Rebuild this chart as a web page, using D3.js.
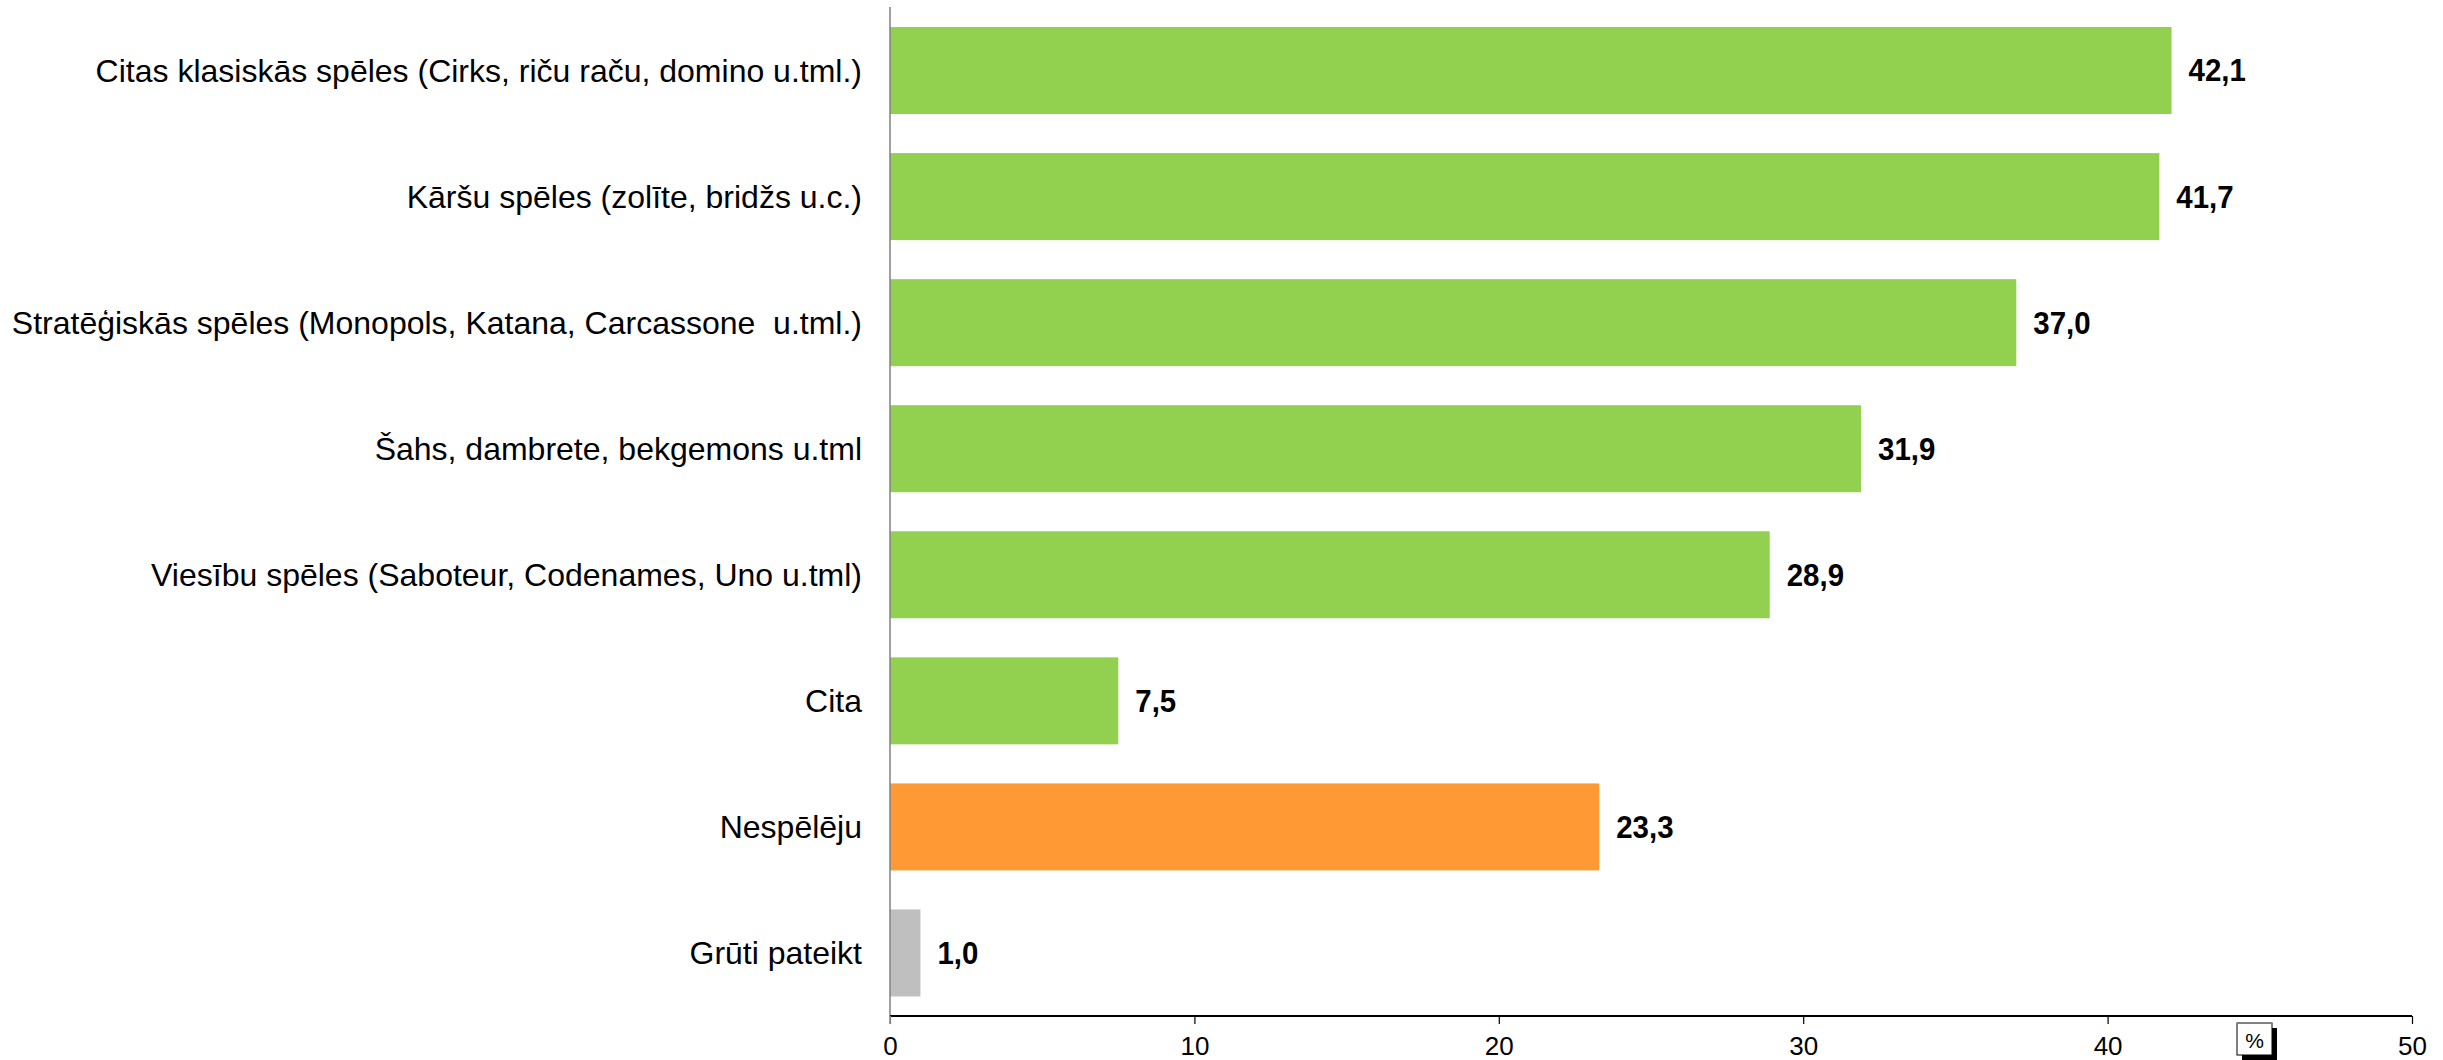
<!DOCTYPE html>
<html><head><meta charset="utf-8">
<script src="https://cdn.jsdelivr.net/npm/d3@7"></script>
<style>html,body{margin:0;padding:0;background:#fff;}svg{display:block;font-family:"Liberation Sans",Arial,sans-serif;}text{white-space:pre;}</style>
</head><body>
<svg id="chart" width="2443" height="1060"></svg>
<script>
const categories = [
  "Citas klasiskās spēles (Cirks, riču raču, domino u.tml.)",
  "Kāršu spēles (zolīte, bridžs u.c.)",
  "Stratēģiskās spēles (Monopols, Katana, Carcassone  u.tml.)",
  "Šahs, dambrete, bekgemons u.tml",
  "Viesību spēles (Saboteur, Codenames, Uno u.tml)",
  "Cita",
  "Nespēlēju",
  "Grūti pateikt"
];
const values = [42.1, 41.7, 37.0, 31.9, 28.9, 7.5, 23.3, 1.0];
const barColors = ["#92D050","#92D050","#92D050","#92D050","#92D050","#92D050","#FF9933","#BFBFBF"];
const xTicks = [0, 10, 20, 30, 40, 50];
const unitLabel = "%";

const svg = d3.select("#chart");
const x0 = 890, x1 = 2412, yTop = 7, axisY = 1016;
const x = d3.scaleLinear().domain([0, 50]).range([x0, x1]);
const y = d3.scaleBand().domain(categories).range([7.5, axisY]).paddingInner(0.31).paddingOuter(0.155);

// bars
svg.append("g").selectAll("rect").data(values).join("rect")
  .attr("x", x(0)).attr("y", (d, i) => y(categories[i]))
  .attr("width", d => x(d) - x(0)).attr("height", y.bandwidth())
  .attr("fill", (d, i) => barColors[i]);

// vertical axis line
svg.append("line").attr("x1", x0).attr("x2", x0).attr("y1", yTop).attr("y2", axisY + 8)
  .attr("stroke", "#808080").attr("stroke-width", 1.5);

// category labels
svg.append("g").selectAll("text").data(categories).join("text")
  .attr("x", x0 - 28).attr("y", d => y(d) + y.bandwidth() / 2)
  .attr("text-anchor", "end").attr("dominant-baseline", "central")
  .attr("font-size", 32).attr("fill", "#000").text(d => d);

// value labels
const fmt = d => d.toFixed(1).replace(".", ",");
svg.append("g").selectAll("text").data(values).join("text")
  .attr("transform", (d, i) => `translate(${x(d) + 17},${y(categories[i]) + y.bandwidth() / 2}) scale(0.92,1)`)
  .attr("dominant-baseline", "central")
  .attr("font-size", 32).attr("font-weight", "bold").attr("fill", "#000").text(fmt);

// x axis
const xAxis = d3.axisBottom(x).tickValues(xTicks).tickSize(8).tickPadding(13).tickFormat(d3.format("d"));
const ga = svg.append("g").attr("transform", `translate(0,${axisY})`).call(xAxis);
ga.select(".domain").attr("stroke", "#000").attr("stroke-width", 2).attr("d", `M${x0},0H${x1}`);
ga.selectAll(".tick line").attr("stroke", (d) => d === 0 ? "#808080" : "#000").attr("stroke-width", 1.2);
ga.selectAll(".tick text").attr("font-size", 26).attr("fill", "#000").attr("font-family", "Liberation Sans, Arial, sans-serif");

// % unit box
const bx = 2237, by = 1023, bw = 35, bh = 32;
svg.append("rect").attr("x", bx + 5).attr("y", by + 5).attr("width", bw).attr("height", bh).attr("fill", "#000");
svg.append("rect").attr("x", bx).attr("y", by).attr("width", bw).attr("height", bh).attr("fill", "#fff").attr("stroke", "#000").attr("stroke-width", 1);
svg.append("line").attr("x1", bx).attr("x2", bx + bw).attr("y1", by).attr("y2", by).attr("stroke", "#808080").attr("stroke-width", 2);
svg.append("text").attr("x", bx + bw / 2).attr("y", by + bh / 2 + 1).attr("text-anchor", "middle")
  .attr("dominant-baseline", "central").attr("font-size", 21).text(unitLabel);
</script>
</body></html>
